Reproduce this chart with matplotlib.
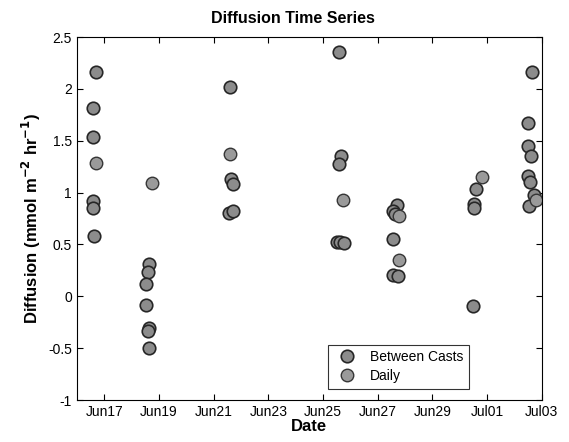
import numpy as np
import matplotlib
matplotlib.use("Agg")
import matplotlib.pyplot as plt
import matplotlib.dates as mdates
from datetime import datetime, timedelta

plt.rcParams['font.family'] = ['Liberation Sans', 'DejaVu Sans']

# fractional day of June (July days continue past 30)
casts_day = [16.68, 16.60, 16.60, 16.57, 16.57, 16.63,
             18.65, 18.60, 18.54, 18.54, 18.65, 18.58, 18.63,
             21.59, 21.65, 21.71, 21.56, 21.71,
             25.58, 25.65, 25.58, 25.52, 25.62, 25.75,
             27.69, 27.57, 27.62, 27.57, 27.57, 27.75,
             30.58, 30.52, 30.53, 30.49,
             32.65, 32.50, 32.50, 32.62, 32.48, 32.56, 32.71, 32.53]
casts_val = [2.16, 1.82, 1.54, 0.92, 0.85, 0.58,
             0.31, 0.23, 0.12, -0.08, -0.31, -0.33, -0.50,
             2.02, 1.13, 1.08, 0.80, 0.82,
             2.36, 1.35, 1.28, 0.52, 0.52, 0.51,
             0.88, 0.82, 0.79, 0.55, 0.21, 0.20,
             1.04, 0.89, 0.85, -0.09,
             2.16, 1.67, 1.45, 1.35, 1.16, 1.10, 0.98, 0.87]

daily_day = [16.69, 18.73, 21.60, 25.74, 27.78, 27.78, 30.80, 32.78]
daily_val = [1.29, 1.09, 1.37, 0.93, 0.77, 0.35, 1.15, 0.93]

tick_days = [17, 19, 21, 23, 25, 27, 29, 31, 33]
y_ticks = [-1, -0.5, 0, 0.5, 1, 1.5, 2, 2.5]

base = datetime(1999, 5, 31)
def to_date(days):
    return [base + timedelta(days=d) for d in days]

fig = plt.figure(figsize=(5.69, 4.42), dpi=100)
ax = fig.add_axes([0.1353, 0.095, 0.817, 0.821])

ax.plot(to_date(casts_day), casts_val, 'o', ms=9, mfc='#8c8c8c', mec='#262626',
        mew=1.2, label='Between Casts')
ax.plot(to_date(daily_day), daily_val, 'o', ms=9, mfc='#9a9a9a', mec='#363636',
        mew=1.0, label='Daily')

ax.set_xlim(to_date([16])[0], to_date([33])[0])
ax.set_ylim(-1, 2.5)
ax.set_xticks(to_date(tick_days))
ax.xaxis.set_major_formatter(mdates.DateFormatter('%b%d'))
ax.set_yticks(y_ticks)
ax.set_yticklabels([f'{v:g}' for v in y_ticks])
ax.tick_params(direction='in', top=True, right=True, labelsize=10, length=4)

ax.set_title('Diffusion Time Series', fontsize=11.5, fontweight='bold', pad=10, x=0.465)
ax.set_xlabel('Date', fontsize=12, fontweight='bold', labelpad=0)
ax.set_ylabel('Diffusion (mmol m$^{\\mathbf{-2}}$ hr$^{\\mathbf{-1}}$)', fontsize=12,
              fontweight='bold', labelpad=4)

leg = ax.legend(loc='lower left', bbox_to_anchor=(0.525, 0.012), fontsize=10,
                frameon=True, fancybox=False, edgecolor='black', handletextpad=0.6,
                borderpad=0.4, labelspacing=0.35)
leg.get_frame().set_linewidth(0.8)

fig.savefig('out.png', dpi=100)
